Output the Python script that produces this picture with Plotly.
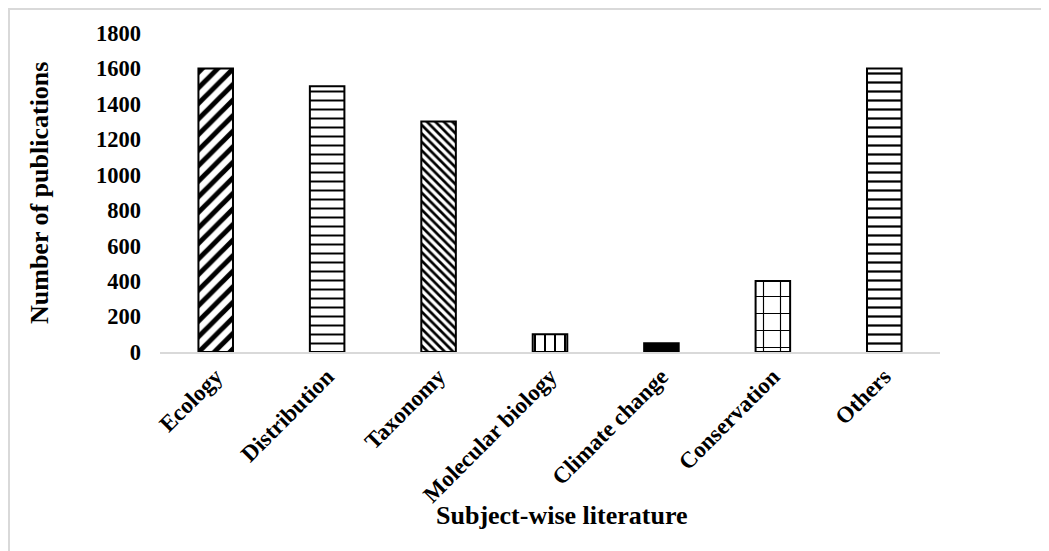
import plotly.graph_objects as go

categories = ["Ecology", "Distribution", "Taxonomy", "Molecular biology",
              "Climate change", "Conservation", "Others"]
publications = [1600, 1500, 1300, 100, 50, 400, 1600]
y_ticks = [0, 200, 400, 600, 800, 1000, 1200, 1400, 1600, 1800]

shapes = ["/", "-", "\\", "|", "", "+", "-"]
sizes = [11, 9, 6, 10, 8, 17, 9]
solid = [0.45, 0.22, 0.45, 0.2, 0.3, 0.13, 0.25]
fills = ["white", "white", "white", "white", "black", "white", "white"]

FONT = "Liberation Serif"

fig = go.Figure()
for cat, val, shp, sz, so, fc in zip(categories, publications, shapes, sizes, solid, fills):
    pat = dict(shape=shp, size=sz, solidity=so, fgcolor="black", fgopacity=1,
               fillmode="overlay")
    fig.add_trace(go.Bar(
        x=[cat], y=[val], width=0.31,
        marker=dict(color=fc, line=dict(color="black", width=2), pattern=pat),
    ))

L, T = 152, 25
W, H = 780, 319

def px(x):
    return (x - 8 - L) / W

def py(y):
    return (T + H - (y - 8)) / H

fig.update_layout(
    width=1049, height=551, barmode="overlay",
    margin=dict(l=L, r=1049 - L - W, t=T, b=551 - T - H),
    plot_bgcolor="white", paper_bgcolor="white",
    font=dict(family=FONT, size=23, color="black"),
    showlegend=False,
    xaxis=dict(showline=True, linecolor="#d9d9d9", linewidth=2, automargin=False,
               categoryorder="array", categoryarray=categories,
               tickangle=-45, tickfont=dict(family=FONT, size=23, weight="bold"),
               showgrid=False, ticks=""),
    yaxis=dict(range=[0, 1800], tickvals=y_ticks, showgrid=False, zeroline=False,
               showline=False, ticklabelstandoff=18, automargin=False,
               tickfont=dict(family=FONT, size=22.5, weight="bold")),
    shapes=[dict(type="rect", xref="paper", yref="paper",
                 x0=px(9), x1=px(1070), y0=py(580), y1=py(9),
                 line=dict(color="#d9d9d9", width=2), fillcolor="rgba(0,0,0,0)",
                 layer="below")],
    annotations=[
        dict(text="<b>Subject-wise literature</b>", xref="paper", yref="paper",
             x=px(562), y=py(515), xanchor="center", yanchor="middle", showarrow=False,
             font=dict(family=FONT, size=26)),
        dict(text="<b>Number of publications</b>", xref="paper", yref="paper",
             x=px(40), y=py(193), xanchor="center", yanchor="middle", showarrow=False,
             textangle=-90, font=dict(family=FONT, size=26)),
    ],
)

fig.write_html("out.html")
